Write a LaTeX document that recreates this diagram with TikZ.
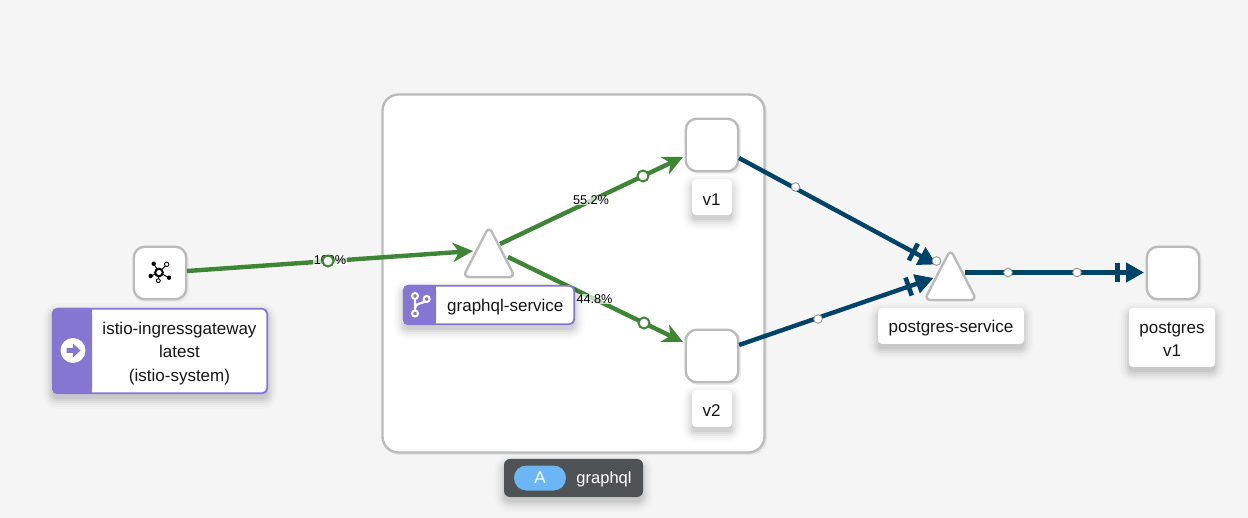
\documentclass[tikz,border=0pt]{standalone}
\usepackage{fontspec}
\setmainfont{Liberation Sans}
\usetikzlibrary{arrows.meta,shapes.geometric}
\definecolor{bgc}{HTML}{F5F5F5}
\definecolor{bord}{HTML}{BBBBBB}
\definecolor{flow}{HTML}{3E8635}
\definecolor{tcp}{HTML}{004368}
\definecolor{purp}{HTML}{8476D1}
\definecolor{ink}{HTML}{151515}
\definecolor{nsdark}{HTML}{4F5255}
\definecolor{pill}{HTML}{6CB6F5}
\tikzset{
  x=1pt,y=-1pt,
  lab/.style={font=\fontsize{17}{23.3}\selectfont,text=ink,align=center,inner sep=0pt},
  whitebox/.style={fill=white,rounded corners=4,inner sep=0pt,outer sep=0pt},
  wl/.style={draw=bord,line width=2.4,fill=white,rounded corners=11,minimum size=52.5,inner sep=0pt,outer sep=0pt},
  tri/.style={isosceles triangle,isosceles triangle stretches,shape border rotate=90,draw=bord,line width=2.4,fill=white,
     rounded corners=6,minimum width=#1,minimum height=50.5,inner sep=0pt,outer sep=0pt,anchor=apex},
  http/.style={draw=flow,line width=4.4,-{Stealth[length=20,width=19,inset=6]}},
  tcpl/.style={draw=tcp,line width=4.4,-{Bar[width=19,line width=4.6,sep=6]Triangle[length=18,width=19]}},
  gdot/.style={circle,draw=flow,fill=white,line width=2,minimum size=11,inner sep=0pt},
  bdot/.style={circle,draw=bord!80!black,fill=white,line width=.9,minimum size=8.6,inner sep=0pt},
  pct/.style={font=\fontsize{12.7}{14}\selectfont,text=black,fill=white,fill opacity=.7,text opacity=1,inner sep=.3pt},
}
\newcommand{\softshadow}[5]{%
  \foreach \g/\o in {10/.012,8/.018,6/.025,4/.035,2/.045,0/.05}
    \fill[black,opacity=\o,rounded corners=#5+\g]
      (#1-\g,#2+5-\g) rectangle (#3+\g,#4+5+\g);}
\begin{document}
\begin{tikzpicture}
\useasboundingbox (0,0) rectangle (1248,518);
\fill[bgc] (0,0) rectangle (1248,518);

% namespace box
\fill[black!10,rounded corners=16] (384,96) rectangle (767,455);
\node[draw=bord,line width=2.4,fill=white,rounded corners=16,minimum width=382,minimum height=358,inner sep=0pt] (ns) at (573.5,273.5) {};

% workload squares
\foreach \x/\y in {160/273.5,712/145,712/356,1173/273.5}
  \fill[black!8,rounded corners=11] (\x-25,\y-25) rectangle (\x+29,\y+29);
\node[wl] (gw) at (160,273) {};
\node[wl] (v1) at (712,145) {};
\node[wl] (v2) at (712,356) {};
\node[wl] (pgdb) at (1173,273) {};

% triangles
\fill[black!8,rounded corners=5] (491,230)--(515,279)--(467,279)--cycle;
\fill[black!8,rounded corners=5] (952,253)--(977,302)--(929,302)--cycle;
\node[tri=52] (svc) at (489,226.5) {};
\node[tri=52] (pgs) at (950.5,249.5) {};

% edges
\draw[http] ([shift={(27,-2)}]gw.center) -- ([shift={(-16,24.5)}]svc.apex);
\draw[http] ([shift={(11,17.5)}]svc.apex) -- ([shift={(-29,12)}]v1.center);
\draw[http] ([shift={(19,30.5)}]svc.apex) -- ([shift={(-29,-14)}]v2.center);
\draw[tcpl] ([shift={(27,13)}]v1.center) -- ([shift={(-14,15)}]pgs.apex);
\draw[tcpl] ([shift={(27,-11)}]v2.center) -- ([shift={(-17,28.5)}]pgs.apex);
\draw[tcpl] ([shift={(14.5,23)}]pgs.apex) -- ([shift={(-29,-0.5)}]pgdb.center);

% percent labels
\node[pct] (p100) at (330,260.5) {100\%};
\node[pct] (p55) at (591,200.5) {55.2\%};
\node[pct] (p44) at (594.5,299) {44.8\%};

% flow markers
\node[gdot] (m1) at (328,261) {};
\node[gdot] (m2) at (643,176) {};
\node[gdot] (m3) at (644,323) {};
\node[bdot] (m4) at (795.5,187) {};
\node[bdot] (m5) at (818,319) {};
\node[bdot] (m6) at (936.5,261) {};
\node[bdot] (m7) at (1008,272.5) {};
\node[bdot] (m8) at (1077,272.5) {};

% gateway icon
\draw[black,line width=.9] (153.7,263.7)--(159,272.5)--(166.7,264.3) (150.7,276)--(159,272.5)--(169,277.7) (159,272.5)--(158.3,280.7);
\draw[black,fill=white,line width=2] (159,272.5) circle (3.8);
\fill[black] (153.7,263.7) circle (2.2) (150.7,276) circle (2.2) (169,277.7) circle (2.2);
\draw[black,fill=white,line width=.9] (166.7,264.3) circle (2.2) (158.3,280.7) circle (2);

% gateway label
\softshadow{52}{308}{268}{394}{5}
\node[draw=purp,line width=1.8,fill=white,rounded corners=5,minimum width=214.5,minimum height=84.5,inner sep=0pt] (igwbox) at (160,351) {};
\fill[purp,rounded corners=5] (52,308) rectangle (92,394);
\fill[purp] (80,308) rectangle (92,394);
\node[circle,fill=white,minimum size=25,inner sep=0pt] (igwicon) at (73,350.5) {};
\fill[purp] (66.5,348) -- (73,348) -- (73,343.5) -- (80.5,350.5) -- (73,357.5) -- (73,353) -- (66.5,353) -- cycle;
\node[lab] (igw) at (179.5,353.5) {istio-ingressgateway\\latest\\(istio-system)};

% service label
\softshadow{403}{285}{575}{325}{5}
\node[draw=purp,line width=1.8,fill=white,rounded corners=5,minimum width=170.5,minimum height=38.5,inner sep=0pt] (svcbox) at (489,305) {};
\fill[purp,rounded corners=5] (403,285) rectangle (436,325);
\fill[purp] (425,285) rectangle (436,325);
\draw[white,line width=2.2] (415,296) -- (415,313.5) (426.7,299) .. controls (426.7,304) and (415,302) .. (415,308);
\draw[white,fill=purp,line width=2] (415,296) circle (3) (426.7,299) circle (3) (415,313.5) circle (3);
\node[lab] (svct) at (505.3,307) {graphql-service};

% plain labels
\softshadow{692}{179}{732}{215}{4}
\node[whitebox,lab,minimum width=40,minimum height=36] (v1t) at (712,197) {};
\node[lab] (v1s) at (711.5,199.5) {v1};
\softshadow{692}{390}{732}{427}{4}
\node[whitebox,lab,minimum width=40,minimum height=37] (v2t) at (712,408.5) {};
\node[lab] (v2s) at (711.5,411) {v2};
\softshadow{878}{308}{1024}{344}{4}
\node[whitebox,lab,minimum width=146,minimum height=36] (pgst) at (951,326) {};
\node[lab] (pgss) at (951,328) {postgres-service};
\softshadow{1129}{308}{1215}{367}{4}
\node[whitebox,lab,minimum width=86,minimum height=59] (pgt) at (1172,337.5) {};
\node[lab] (pgtt) at (1172,339.5) {postgres\\v1};

% namespace tag
\softshadow{504}{459}{643}{497}{6}
\node[fill=nsdark,rounded corners=6,minimum width=139,minimum height=38,inner sep=0pt] (nstag) at (573.5,478) {};
\node[fill=pill,rounded corners=12.4,minimum width=52,minimum height=25,inner sep=0pt,font=\fontsize{17}{20}\selectfont,text=white] (nsa) at (540,478) {A};
\node[font=\fontsize{16.5}{20}\selectfont,text=white,inner sep=0pt] (nst) at (604,479) {graphql};
\end{tikzpicture}
\end{document}
